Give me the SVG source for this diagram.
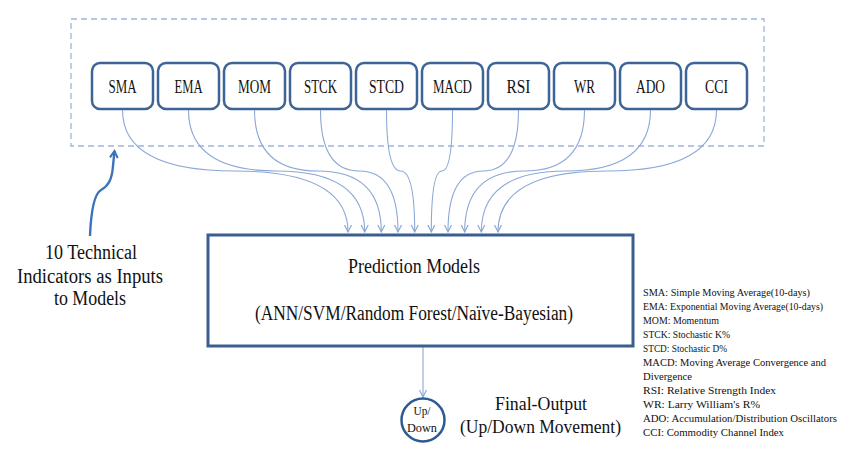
<svg xmlns="http://www.w3.org/2000/svg" width="848" height="449" viewBox="0 0 848 449">
<style>
.ind{fill:#fff;stroke:#3d6496;stroke-width:2.5}
.lbl{font-family:"Liberation Serif",serif;font-size:19.5px;fill:#111;text-anchor:middle}
.big{font-family:"Liberation Serif",serif;font-size:20px;fill:#111;text-anchor:middle}
.leg{font-family:"Liberation Serif",serif;font-size:11px;fill:#111}
.con{fill:none;stroke:#8aa8d6;stroke-width:1.1;marker-end:url(#ah)}
</style>
<defs>
<marker id="ah" markerUnits="userSpaceOnUse" markerWidth="10" markerHeight="10" refX="7" refY="3.5" orient="auto" viewBox="-1 -1 10 10">
<path d="M0,0 L7,3.5 L0,7" fill="none" stroke="#8aa8d6" stroke-width="1.2"/>
</marker>
<marker id="ah2" markerUnits="userSpaceOnUse" markerWidth="12" markerHeight="12" refX="8" refY="4.5" orient="auto" viewBox="-2 -2 14 14">
<path d="M0,0 L8,4.5 L0,9" fill="none" stroke="#3b73b9" stroke-width="2.4" stroke-linejoin="miter"/>
</marker>
</defs>
<rect width="848" height="449" fill="#fff"/>
<rect id="frame" x="71" y="19" width="693" height="127" fill="none" stroke="#9bb7dd" stroke-width="1.3" stroke-dasharray="6,4"/>
<g id="SMA"><rect class="ind" x="92" y="63" width="61" height="46" rx="8"/><text class="lbl" x="122.5" y="93" textLength="28" lengthAdjust="spacingAndGlyphs">SMA</text></g>
<g id="EMA"><rect class="ind" x="158" y="63" width="61" height="46" rx="8"/><text class="lbl" x="188.5" y="93" textLength="28" lengthAdjust="spacingAndGlyphs">EMA</text></g>
<g id="MOM"><rect class="ind" x="224" y="63" width="61" height="46" rx="8"/><text class="lbl" x="254.5" y="93" textLength="33" lengthAdjust="spacingAndGlyphs">MOM</text></g>
<g id="STCK"><rect class="ind" x="290" y="63" width="61" height="46" rx="8"/><text class="lbl" x="320.5" y="93" textLength="33" lengthAdjust="spacingAndGlyphs">STCK</text></g>
<g id="STCD"><rect class="ind" x="356" y="63" width="61" height="46" rx="8"/><text class="lbl" x="386.5" y="93" textLength="35" lengthAdjust="spacingAndGlyphs">STCD</text></g>
<g id="MACD"><rect class="ind" x="422" y="63" width="61" height="46" rx="8"/><text class="lbl" x="452.5" y="93" textLength="39" lengthAdjust="spacingAndGlyphs">MACD</text></g>
<g id="RSI"><rect class="ind" x="488" y="63" width="61" height="46" rx="8"/><text class="lbl" x="518.5" y="93" textLength="24" lengthAdjust="spacingAndGlyphs">RSI</text></g>
<g id="WR"><rect class="ind" x="554" y="63" width="61" height="46" rx="8"/><text class="lbl" x="584.5" y="93" textLength="21" lengthAdjust="spacingAndGlyphs">WR</text></g>
<g id="ADO"><rect class="ind" x="620" y="63" width="61" height="46" rx="8"/><text class="lbl" x="650.5" y="93" textLength="29" lengthAdjust="spacingAndGlyphs">ADO</text></g>
<g id="CCI"><rect class="ind" x="686" y="63" width="61" height="46" rx="8"/><text class="lbl" x="716.5" y="93" textLength="23" lengthAdjust="spacingAndGlyphs">CCI</text></g>
<g id="connectors">
<path class="con" d="M122.5,110 Q122.5,171 235.3,171 Q348,171 348,232"/>
<path class="con" d="M188.5,110 Q188.5,171 276.6,171 Q364.7,171 364.7,232"/>
<path class="con" d="M254.5,110 Q254.5,171 317.9,171 Q381.3,171 381.3,232"/>
<path class="con" d="M320.5,110 Q320.5,171 359.3,171 Q398,171 398,232"/>
<path class="con" d="M386.5,110 Q386.5,171 400.6,171 Q414.7,171 414.7,232"/>
<path class="con" d="M452.5,110 Q452.5,171 441.9,171 Q431.3,171 431.3,232"/>
<path class="con" d="M518.5,110 Q518.5,171 483.3,171 Q448,171 448,232"/>
<path class="con" d="M584.5,110 Q584.5,171 524.6,171 Q464.7,171 464.7,232"/>
<path class="con" d="M650.5,110 Q650.5,171 565.9,171 Q481.3,171 481.3,232"/>
<path class="con" d="M716.5,110 Q716.5,171 607.3,171 Q498,171 498,232"/>
<path class="con" d="M423,347 L423,397"/>
<path d="M90,236 C91,212 94,194 101,190 C108,186 112,180 113,166 L114.5,151" fill="none" stroke="#3b73b9" stroke-width="2.4" marker-end="url(#ah2)"/>
</g>
<g id="prediction">
<rect x="208" y="235" width="425" height="111" fill="#fff" stroke="#3a5f8f" stroke-width="3"/>
<text class="big" x="414" y="273" textLength="132" lengthAdjust="spacingAndGlyphs">Prediction Models</text>
<text class="big" x="414" y="320" textLength="318" lengthAdjust="spacingAndGlyphs">(ANN/SVM/Random Forest/Naïve-Bayesian)</text>
</g>
<g id="output">
<circle cx="423" cy="420" r="21.5" fill="#fff" stroke="#2e5a94" stroke-width="2.5"/>
<text class="lbl" x="422" y="415" style="font-size:13px" textLength="17" lengthAdjust="spacingAndGlyphs">Up/</text>
<text class="lbl" x="422" y="432" style="font-size:13px" textLength="30" lengthAdjust="spacingAndGlyphs">Down</text>
</g>
<g id="output-label">
<text class="lbl" x="541" y="410" textLength="92" lengthAdjust="spacingAndGlyphs">Final-Output</text>
<text class="lbl" x="540.5" y="433" textLength="161" lengthAdjust="spacingAndGlyphs">(Up/Down Movement)</text>
</g>
<g id="inputs-label">
<text class="big" x="91" y="259" textLength="92" lengthAdjust="spacingAndGlyphs">10 Technical</text>
<text class="big" x="90" y="283" textLength="146" lengthAdjust="spacingAndGlyphs">Indicators as Inputs</text>
<text class="big" x="90" y="305" textLength="72" lengthAdjust="spacingAndGlyphs">to Models</text>
</g>
<g id="legend">
<text class="leg" x="643" y="296" textLength="167" lengthAdjust="spacingAndGlyphs">SMA: Simple Moving Average(10-days)</text>
<text class="leg" x="643" y="310" textLength="180" lengthAdjust="spacingAndGlyphs">EMA: Exponential Moving Average(10-days)</text>
<text class="leg" x="643" y="324" textLength="76" lengthAdjust="spacingAndGlyphs">MOM: Momentum</text>
<text class="leg" x="643" y="338" textLength="87" lengthAdjust="spacingAndGlyphs">STCK: Stochastic K%</text>
<text class="leg" x="643" y="352" textLength="84" lengthAdjust="spacingAndGlyphs">STCD: Stochastic D%</text>
<text class="leg" x="643" y="366" textLength="183" lengthAdjust="spacingAndGlyphs">MACD: Moving Average Convergence and</text>
<text class="leg" x="643" y="380" textLength="49" lengthAdjust="spacingAndGlyphs">Divergence</text>
<text class="leg" x="643" y="394" textLength="133" lengthAdjust="spacingAndGlyphs">RSI: Relative Strength Index</text>
<text class="leg" x="643" y="408" textLength="117" lengthAdjust="spacingAndGlyphs">WR: Larry William's R%</text>
<text class="leg" x="643" y="422" textLength="194" lengthAdjust="spacingAndGlyphs">ADO: Accumulation/Distribution Oscillators</text>
<text class="leg" x="643" y="436" textLength="141" lengthAdjust="spacingAndGlyphs">CCI: Commodity Channel Index</text>
</g>
</svg>
